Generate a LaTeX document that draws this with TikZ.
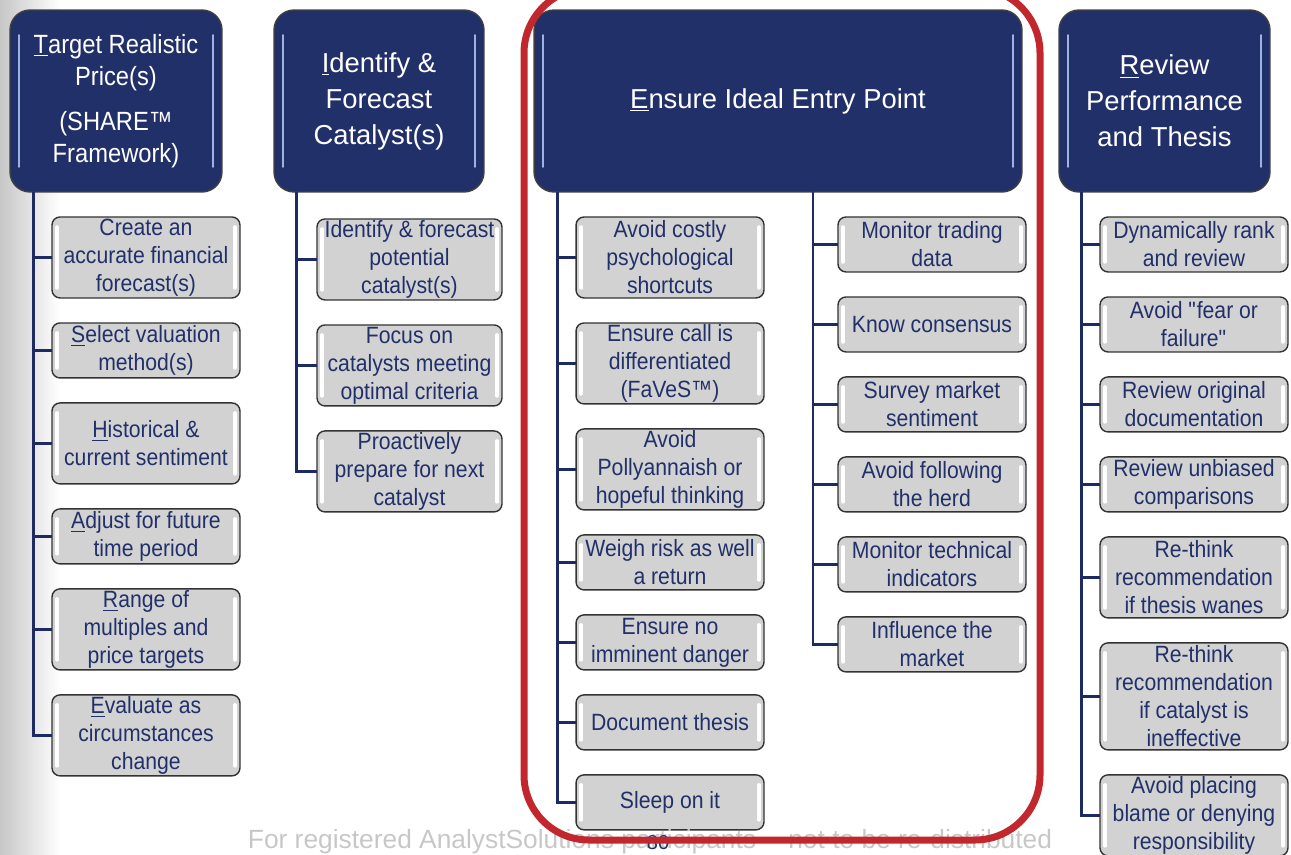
\documentclass[tikz,border=0pt]{standalone}
\usepackage{fontspec}
\setmainfont{Liberation Sans}
\newfontfamily\leaffont[FakeStretch=0.9]{Liberation Sans}
\usetikzlibrary{positioning}
\definecolor{hdrnavy}{HTML}{22306A}
\definecolor{linknavy}{HTML}{1E2B62}
\definecolor{leafgray}{HTML}{D2D2D2}
\definecolor{leaftext}{HTML}{22306A}
\definecolor{framered}{HTML}{C1272D}
\definecolor{glow}{HTML}{9DB4E0}

\begin{document}
\begin{tikzpicture}[x=0.02cm, y=-0.02cm, node distance=0.5cm,
  every node/.style={font=\fontsize{12.2}{15.9}\selectfont},
  head/.style={draw=black!75, line width=0.8pt, fill=hdrnavy, text=white, rounded corners=0.4cm,
    minimum height=3.64cm, align=center, inner sep=0pt, outer sep=0pt, font=\fontsize{15.6}{20.5}\selectfont,
    path picture={
      \draw[glow, line width=1pt, line cap=round] ([xshift=0.18cm,yshift=-0.5cm]path picture bounding box.north west) -- ([xshift=0.18cm,yshift=0.5cm]path picture bounding box.south west);
      \draw[glow, line width=1pt, line cap=round] ([xshift=-0.18cm,yshift=-0.5cm]path picture bounding box.north east) -- ([xshift=-0.18cm,yshift=0.5cm]path picture bounding box.south east);
    }},
  leaf/.style={draw=black!80, line width=0.8pt, fill=leafgray, text=leaftext, rounded corners=0.16cm,
    minimum width=3.76cm, align=center, inner sep=0pt, outer sep=0pt,
    font=\leaffont\fontsize{13.4}{15.9}\selectfont,
    path picture={
      \draw[white, line width=2pt, line cap=round] ([xshift=0.1cm,yshift=-0.2cm]path picture bounding box.north west) -- ([xshift=0.1cm,yshift=0.2cm]path picture bounding box.south west);
      \draw[white, line width=2pt, line cap=round] ([xshift=-0.1cm,yshift=-0.2cm]path picture bounding box.north east) -- ([xshift=-0.1cm,yshift=0.2cm]path picture bounding box.south east);
    }},
  two/.style={leaf, minimum height=1.1cm},
  three/.style={leaf, minimum height=1.62cm},
  four/.style={leaf, minimum height=2.14cm},
  link/.style={draw=linknavy, line width=1.7pt}]

  \useasboundingbox (0,0) rectangle (1291,855);
  \clip (0,0) rectangle (1291,855);
  \shade[left color=black!22, right color=white] (0,0) rectangle (60,855);

  % the four steps
  \node[head, minimum width=4.24cm, font=\leaffont\fontsize{15}{18.2}\selectfont] (h1) at (116,101)
    {\underline{T}arget Realistic\\Price(s)\\[0.26cm](SHARE™\\Framework)};
  \node[head, minimum width=4.2cm] (h2) at (379,101) {\underline{I}dentify \&\\Forecast\\Catalyst(s)};
  \node[head, minimum width=9.76cm] (h3) at (778,101) {\underline{E}nsure Ideal Entry Point};
  \node[head, minimum width=4.22cm] (h4) at (1164.5,101) {\underline{R}eview\\Performance\\and Thesis};

  % target price
  \node[three, below=of h1.south west, anchor=north west, xshift=0.84cm] (c1a) {Create an\\accurate financial\\forecast(s)};
  \node[two, below=of c1a] (c1b) {\underline{S}elect valuation\\method(s)};
  \node[three, below=of c1b] (c1c) {\underline{H}istorical \&\\current sentiment};
  \node[two, below=of c1c] (c1d) {\underline{A}djust for future\\time period};
  \node[three, below=of c1d] (c1e) {\underline{R}ange of\\multiples and\\price targets};
  \node[three, below=of c1e] (c1f) {\underline{E}valuate as\\circumstances\\change};

  % catalysts
  \node[three, minimum width=3.7cm, below=0.54cm of h2.south west, anchor=north west, xshift=0.86cm] (c2a) {Identify \& forecast\\potential\\catalyst(s)};
  \node[three, minimum width=3.7cm, below=of c2a] (c2b) {Focus on\\catalysts meeting\\optimal criteria};
  \node[three, minimum width=3.7cm, below=of c2b] (c2c) {Proactively\\prepare for next\\catalyst};

  % entry point, left
  \node[three, below=of h3.south west, anchor=north west, xshift=0.84cm] (c3a) {Avoid costly\\psychological\\shortcuts};
  \node[three, below=of c3a] (c3b) {Ensure call is\\differentiated\\(FaVeS™)};
  \node[three, below=of c3b] (c3c) {Avoid\\Pollyannaish or\\hopeful thinking};
  \node[two, below=of c3c] (c3d) {Weigh risk as well\\a return};
  \node[two, below=of c3d] (c3e) {Ensure no\\imminent danger};
  \node[two, below=of c3e] (c3f) {Document thesis};
  \node[two, below=of c3f] (c3g) {Sleep on it};

  % entry point, right
  \node[two, below=of h3.south west, anchor=north west, xshift=6.08cm] (c3p) {Monitor trading\\data};
  \node[two, below=of c3p] (c3q) {Know consensus};
  \node[two, below=of c3q] (c3r) {Survey market\\sentiment};
  \node[two, below=of c3r] (c3s) {Avoid following\\the herd};
  \node[two, below=of c3s] (c3t) {Monitor technical\\indicators};
  \node[two, below=of c3t] (c3u) {Influence the\\market};

  % review
  \node[two, below=of h4.south west, anchor=north west, xshift=0.82cm] (c4a) {Dynamically rank\\and review};
  \node[two, below=of c4a] (c4b) {Avoid \textquotedbl fear or\\failure\textquotedbl};
  \node[two, below=of c4b] (c4c) {Review original\\documentation};
  \node[two, below=of c4c] (c4d) {Review unbiased\\comparisons};
  \node[three, below=of c4d] (c4e) {Re-think\\recommendation\\if thesis wanes};
  \node[four, below=of c4e] (c4f) {Re-think\\recommendation\\if catalyst is\\ineffective};
  \node[three, below=of c4f] (c4g) {Avoid placing\\blame or denying\\responsibility};

  % trunks and ticks
  \coordinate (t1) at ([xshift=0.46cm]h1.south west);
  \coordinate (t2) at ([xshift=0.44cm]h2.south west);
  \coordinate (t3) at ([xshift=0.46cm]h3.south west);
  \coordinate (t3r) at ([xshift=5.58cm]h3.south west);
  \coordinate (t4) at ([xshift=0.44cm]h4.south west);
  \draw[link] (t1) |- (c1f.west);
  \draw[link] (t2) |- (c2c.west);
  \draw[link] (t3) |- (c3g.west);
  \draw[link] (t3r) |- (c3u.west);
  \draw[link] (t4) |- (c4g.west);
  \foreach \c in {c1a,c1b,c1c,c1d,c1e} \draw[link] (\c.west) -- (\c.west -| t1);
  \foreach \c in {c2a,c2b} \draw[link] (\c.west) -- (\c.west -| t2);
  \foreach \c in {c3a,c3b,c3c,c3d,c3e,c3f} \draw[link] (\c.west) -- (\c.west -| t3);
  \foreach \c in {c3p,c3q,c3r,c3s,c3t} \draw[link] (\c.west) -- (\c.west -| t3r);
  \foreach \c in {c4a,c4b,c4c,c4d,c4e,c4f} \draw[link] (\c.west) -- (\c.west -| t4);

  \node[text=black!22, font=\fontsize{15}{18}\selectfont] (note) at (650,842)
    {For registered AnalystSolutions participants -{}- not to be re-distributed};
  \node[text=leaftext, font=\fontsize{11.4}{13}\selectfont] (pageno) at (658,843) {80};

  % highlight round the entry step
  \draw[framered, line width=0.14cm, rounded corners=1.3cm] (524,-12) rectangle (1040,840);
\end{tikzpicture}
\end{document}
